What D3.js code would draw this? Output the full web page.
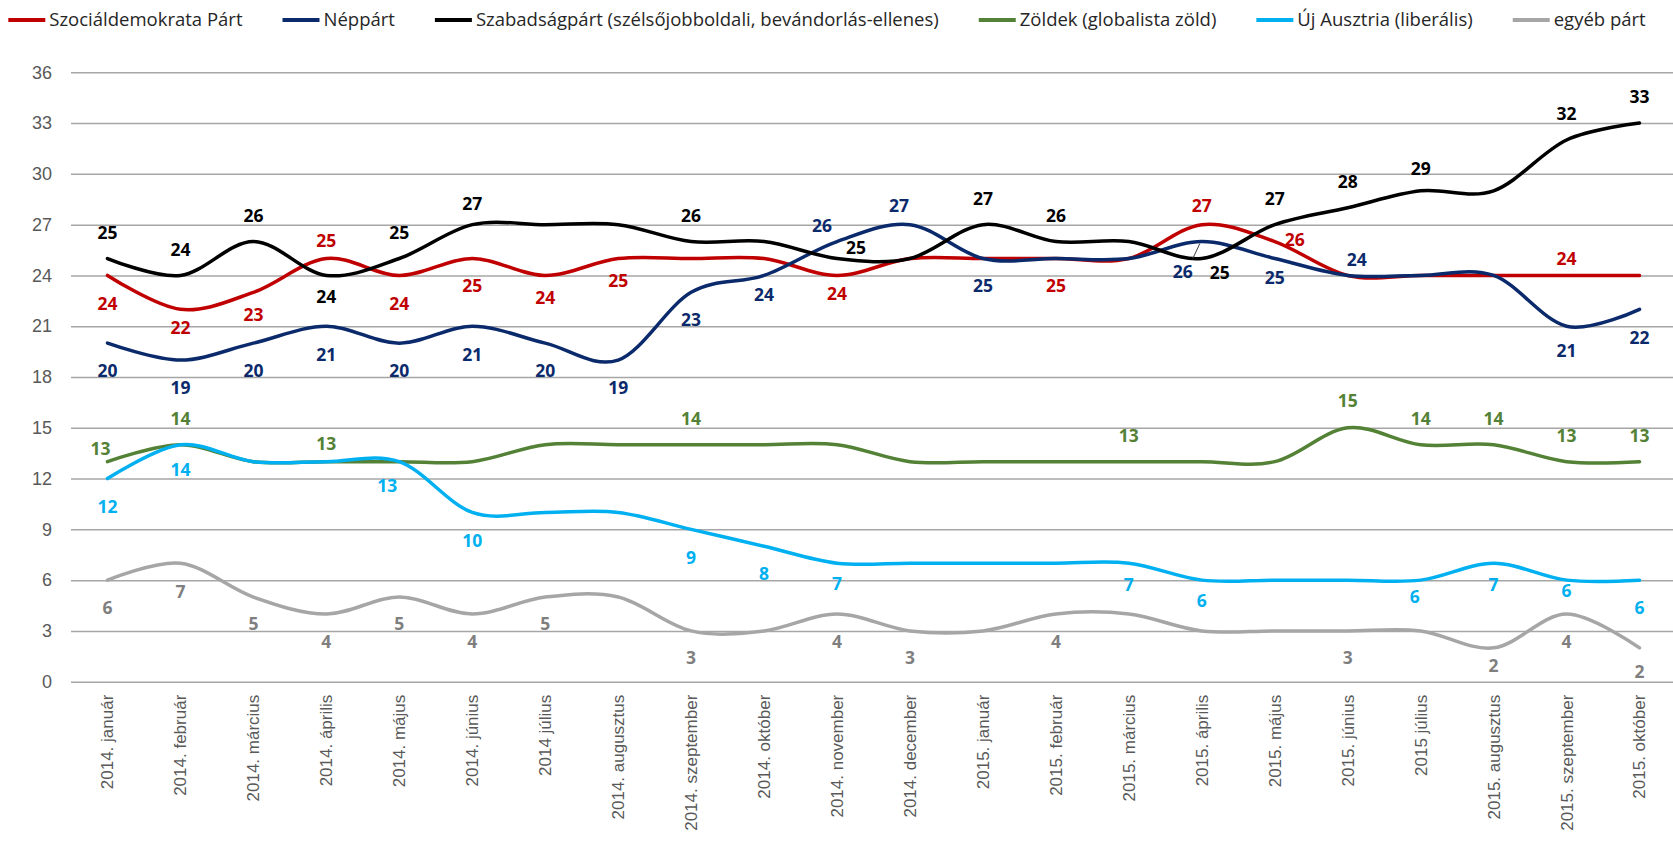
<!DOCTYPE html>
<html>
<head>
<meta charset="utf-8">
<script src="https://d3js.org/d3.v7.min.js"></script>
<style>
  body { margin: 0; background: #fff; }
  svg { display: block; }
</style>
</head>
<body>
<div id="chart"></div>
<script>
// categories
var months = ["2014. január", "2014. február", "2014. március", "2014. április", "2014. május",
  "2014. június", "2014 július", "2014. augusztus", "2014. szeptember", "2014. október",
  "2014. november", "2014. december", "2015. január", "2015. február", "2015. március",
  "2015. április", "2015. május", "2015. június", "2015 július", "2015. augusztus",
  "2015. szeptember", "2015. október"];

// series values (%)
var szocdem  = [24, 22, 23, 25, 24, 25, 24, 25, 25, 25, 24, 25, 25, 25, 25, 27, 26, 24, 24, 24, 24, 24];
var neppart  = [20, 19, 20, 21, 20, 21, 20, 19, 23, 24, 26, 27, 25, 25, 25, 26, 25, 24, 24, 24, 21, 22];
var szabadsag = [25, 24, 26, 24, 25, 27, 27, 27, 26, 26, 25, 25, 27, 26, 26, 25, 27, 28, 29, 29, 32, 33];
var zoldek   = [13, 14, 13, 13, 13, 13, 14, 14, 14, 14, 14, 13, 13, 13, 13, 13, 13, 15, 14, 14, 13, 13];
var ujAusztria = [12, 14, 13, 13, 13, 10, 10, 10, 9, 8, 7, 7, 7, 7, 7, 6, 6, 6, 6, 7, 6, 6];
var egyeb    = [6, 7, 5, 4, 5, 4, 5, 5, 3, 3, 4, 3, 3, 4, 4, 3, 3, 3, 3, 2, 4, 2];

var seriesNames = ["Szociáldemokrata Párt", "Néppárt",
  "Szabadságpárt (szélsőjobboldali, bevándorlás-ellenes)", "Zöldek (globalista zöld)",
  "Új Ausztria (liberális)", "egyéb párt"];

var yTicks = [0, 3, 6, 9, 12, 15, 18, 21, 24, 27, 30, 33, 36];

// label placement (px from point), null = label not shown
var lblDy = [
  [28, 18, 22, -18, 28, 27, 22, 22, null, null, 18, null, null, 27, null, -19, -2, null, null, null, -17, null],
  [28, 28, 28, 28, 28, 28, 28, 28, 27, 19, -16, -19, 27, null, null, 30, 19, -16, null, null, 24, 28],
  [-26, -26, -26, 21, -26, -21, null, null, -26, null, -11, null, -26, -26, null, 14, -26, -26, -22, null, -26, -26],
  [-13, -26, null, -18, null, null, null, null, -26, null, null, null, null, null, -26, null, null, -27, -26, -26, -26, -26],
  [28, 25, null, null, 24, 28, null, null, 28, 27, 20, null, null, null, 21, 21, null, null, 17, 21, 11, 28],
  [28, 28, 27, 28, 27, 28, 27, null, 27, null, 28, 27, null, 28, null, null, null, 27, null, 18, 28, 24]
];
var lblDx = [
  {16: 20},
  {10: -15, 11: -11, 15: -19, 17: 9},
  {10: 19, 15: 18},
  {0: -7},
  {4: -12, 18: -6},
  {}
];

var lineColors = ["#C00000", "#0B2A6B", "#000000", "#538135", "#00B0F0", "#A6A6A6"];
var labelColors = ["#C00000", "#0B2A6B", "#000000", "#538135", "#00B0F0", "#7F7F7F"];

var series = [szocdem, neppart, szabadsag, zoldek, ujAusztria, egyeb].map(function(vals, i) {
  return {name: seriesNames[i], values: vals, color: lineColors[i], lcolor: labelColors[i],
          dy: lblDy[i], dx: lblDx[i]};
});

var W = 1673, H = 847;
var margin = {left: 71, right: -3, top: 72.3, bottom: 165.3};
var plotR = W - margin.right;

var svg = d3.select("#chart").append("svg")
  .attr("width", W).attr("height", H)
  .style("font-family", "'Open Sans', sans-serif");

var x = d3.scaleBand().domain(months).range([margin.left, plotR]);
var y = d3.scaleLinear().domain([0, 36]).range([H - margin.bottom, margin.top]);
var cx = function(d) { return x(d) + x.bandwidth() / 2; };

// gridlines + y axis
var gy = svg.append("g")
  .attr("transform", "translate(" + margin.left + ",0)")
  .call(d3.axisLeft(y).tickValues(yTicks).tickSize(-(W - margin.left)).tickPadding(19));
gy.select(".domain").remove();
gy.selectAll("line").attr("stroke", "#A6A6A6").attr("stroke-width", 1.5);
gy.selectAll("text").attr("fill", "#595959").style("font-size", "18px");

// x axis labels
var gx = svg.append("g")
  .attr("transform", "translate(0," + (H - margin.bottom) + ")")
  .call(d3.axisBottom(x).tickSize(0));
gx.select(".domain").remove();
gx.selectAll("text")
  .attr("fill", "#595959")
  .style("font-size", "17px")
  .attr("text-anchor", "end")
  .attr("transform", "rotate(-90)")
  .attr("x", -13)
  .attr("y", 0)
  .attr("dy", "0.35em");

// lines
var line = d3.line()
  .x(function(d, i) { return cx(months[i]); })
  .y(function(d) { return y(d); })
  .curve(d3.curveCardinal.tension(0));

svg.append("g").selectAll("path")
  .data(series)
  .enter().append("path")
  .attr("d", function(s) { return line(s.values); })
  .attr("fill", "none")
  .attr("stroke", function(s) { return s.color; })
  .attr("stroke-width", 3.5)
  .attr("stroke-linejoin", "round")
  .attr("stroke-linecap", "round");

// data labels
series.forEach(function(s) {
  var pts = s.values.map(function(v, i) {
    return {v: v, i: i, dy: s.dy[i], dx: s.dx[i] || 0};
  }).filter(function(p) { return p.dy !== null; });

  svg.append("g").selectAll("text")
    .data(pts)
    .enter().append("text")
    .attr("x", function(p) { return cx(months[p.i]) + p.dx; })
    .attr("y", function(p) { return y(p.v) + p.dy; })
    .attr("dy", "0.36em")
    .attr("text-anchor", "middle")
    .attr("fill", s.lcolor)
    .style("font-size", "17.5px")
    .style("font-weight", "bold")
    .text(function(p) { return p.v; });
});

// leader line for the Néppárt label in 2015. április
var li = 15;
svg.append("line")
  .attr("x1", cx(months[li]) - 9).attr("y1", y(neppart[li]) + 17)
  .attr("x2", cx(months[li]) - 2).attr("y2", y(neppart[li]) + 2)
  .attr("stroke", "#404040").attr("stroke-width", 1);

// legend
var legend = svg.append("g").attr("transform", "translate(0,20)");
var items = legend.selectAll("g")
  .data(series)
  .enter().append("g");
items.append("line")
  .attr("x1", 0).attr("x2", 37)
  .attr("stroke", function(s) { return s.color; })
  .attr("stroke-width", 4);
items.append("text")
  .attr("x", 41)
  .attr("dy", "0.35em")
  .attr("fill", "#262626")
  .style("font-size", "18.5px")
  .text(function(s) { return s.name; });

var widths = [];
items.select("text").each(function() { widths.push(this.getComputedTextLength()); });
var gap = 40;
var total = d3.sum(widths) + widths.length * 41 + (widths.length - 1) * gap;
var pos = 827 - total / 2;
items.attr("transform", function(s, i) {
  var p = pos;
  pos += 41 + widths[i] + gap;
  return "translate(" + p + ",0)";
});
</script>
</body>
</html>
